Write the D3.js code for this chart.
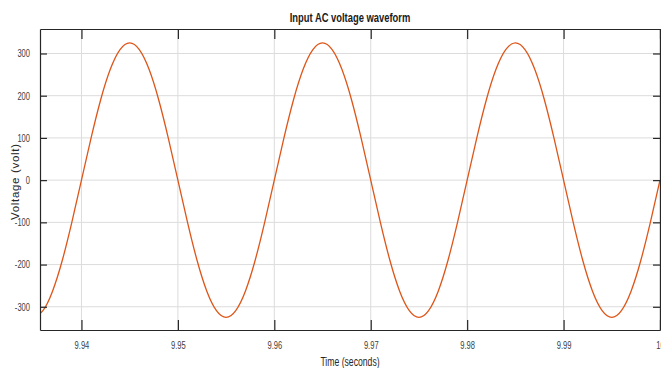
<!DOCTYPE html>
<html>
<head>
<meta charset="utf-8">
<script src="https://cdn.jsdelivr.net/npm/d3@7"></script>
<style>
  body { margin: 0; background: #fff; }
  svg { display: block; font-family: "Liberation Sans", Arial, sans-serif; }
</style>
</head>
<body>
<div id="chart"></div>
<script>
const times = [
  9.935, 9.936, 9.937, 9.938, 9.939, 9.940, 9.941, 9.942, 9.943, 9.944,
  9.945, 9.946, 9.947, 9.948, 9.949, 9.950, 9.951, 9.952, 9.953, 9.954,
  9.955, 9.956, 9.957, 9.958, 9.959, 9.960, 9.961, 9.962, 9.963, 9.964,
  9.965, 9.966, 9.967, 9.968, 9.969, 9.970, 9.971, 9.972, 9.973, 9.974,
  9.975, 9.976, 9.977, 9.978, 9.979, 9.980, 9.981, 9.982, 9.983, 9.984,
  9.985, 9.986, 9.987, 9.988, 9.989, 9.990, 9.991, 9.992, 9.993, 9.994,
  9.995, 9.996, 9.997, 9.998, 9.999, 10.000
];
const volts = [
  -325, -309, -263, -191, -100, 0, 100, 191, 263, 309,
  325, 309, 263, 191, 100, 0, -100, -191, -263, -309,
  -325, -309, -263, -191, -100, 0, 100, 191, 263, 309,
  325, 309, 263, 191, 100, 0, -100, -191, -263, -309,
  -325, -309, -263, -191, -100, 0, 100, 191, 263, 309,
  325, 309, 263, 191, 100, 0, -100, -191, -263, -309,
  -325, -309, -263, -191, -100, 0
];
const xTicks = [9.94, 9.95, 9.96, 9.97, 9.98, 9.99, 10];
const yTicks = [-300, -200, -100, 0, 100, 200, 300];

const width = 661, height = 368;
const margin = {top: 29, right: 1, bottom: 38, left: 40};
const innerW = width - margin.left - margin.right;
const innerH = height - margin.top - margin.bottom;

const svg = d3.select("#chart").append("svg")
    .attr("width", width)
    .attr("height", height);

const x = d3.scaleLinear().domain([9.9357, 10]).range([0, innerW]);
const y = d3.scaleLinear().domain([-355, 358]).range([innerH, 0]);

const g = svg.append("g").attr("transform", `translate(${margin.left},${margin.top})`);

// squeeze the text horizontally, the original font is narrow
function narrow(sel, k) {
    sel.each(function () {
        const w = this.getComputedTextLength();
        d3.select(this).attr("textLength", w * k).attr("lengthAdjust", "spacingAndGlyphs");
    });
}

// grid
g.append("g").selectAll("line").data(xTicks).join("line")
    .attr("x1", d => x(d)).attr("x2", d => x(d))
    .attr("y1", 0).attr("y2", innerH)
    .attr("stroke", "#dcdcdc").attr("stroke-width", 1);
g.append("g").selectAll("line").data(yTicks).join("line")
    .attr("x1", 0).attr("x2", innerW)
    .attr("y1", d => y(d)).attr("y2", d => y(d))
    .attr("stroke", "#dcdcdc").attr("stroke-width", 1);

// waveform
g.append("clipPath").attr("id", "clip")
  .append("rect").attr("width", innerW).attr("height", innerH);

const line = d3.line()
    .x((d, i) => x(times[i]))
    .y(d => y(d))
    .curve(d3.curveNatural);

g.append("path")
    .datum(volts)
    .attr("clip-path", "url(#clip)")
    .attr("fill", "none")
    .attr("stroke", "#DE5518")
    .attr("stroke-width", 1.3)
    .attr("d", line);

// axes, ticks pointing inward on all sides
const fmtX = d => String(+d.toFixed(2));
const fmtY = d => String(d);

const axB = g.append("g").attr("transform", `translate(0,${innerH})`)
    .call(d3.axisBottom(x).tickValues(xTicks).tickSizeInner(-10).tickSizeOuter(0).tickPadding(12).tickFormat(fmtX));
const axT = g.append("g")
    .call(d3.axisTop(x).tickValues(xTicks).tickSizeInner(-10).tickSizeOuter(0).tickFormat(""));
const axL = g.append("g")
    .call(d3.axisLeft(y).tickValues(yTicks).tickSizeInner(-7).tickSizeOuter(0).tickPadding(10).tickFormat(fmtY));
const axR = g.append("g").attr("transform", `translate(${innerW},0)`)
    .call(d3.axisRight(y).tickValues(yTicks).tickSizeInner(-7).tickSizeOuter(0).tickFormat(""));

[axB, axT, axL, axR].forEach(a => {
    a.select(".domain").attr("stroke", "#262626").attr("stroke-width", 1.2);
    a.selectAll(".tick line").attr("stroke", "#262626").attr("stroke-width", 1.2);
    a.selectAll("text").attr("fill", "#404040").attr("font-size", 10.5)
        .attr("font-family", "Liberation Sans, Arial, sans-serif");
});
axB.selectAll(".tick text").call(narrow, 0.72);
axL.selectAll(".tick text").call(narrow, 0.72);

// labels
svg.append("text")
    .attr("x", margin.left + innerW / 2).attr("y", 22)
    .attr("text-anchor", "middle")
    .attr("font-size", 12.5).attr("font-weight", "bold").attr("fill", "#1a1a1a")
    .text("Input AC voltage waveform")
    .call(narrow, 0.75);

svg.append("text")
    .attr("x", margin.left + innerW / 2).attr("y", 366)
    .attr("text-anchor", "middle")
    .attr("font-size", 12).attr("fill", "#262626")
    .text("Time (seconds)")
    .call(narrow, 0.72);

svg.append("text")
    .attr("transform", `translate(19,182) rotate(-90)`)
    .attr("text-anchor", "middle")
    .attr("font-size", 11.5).attr("fill", "#262626")
    .attr("textLength", 76).attr("lengthAdjust", "spacing")
    .text("Voltage (volt)");
</script>
</body>
</html>
